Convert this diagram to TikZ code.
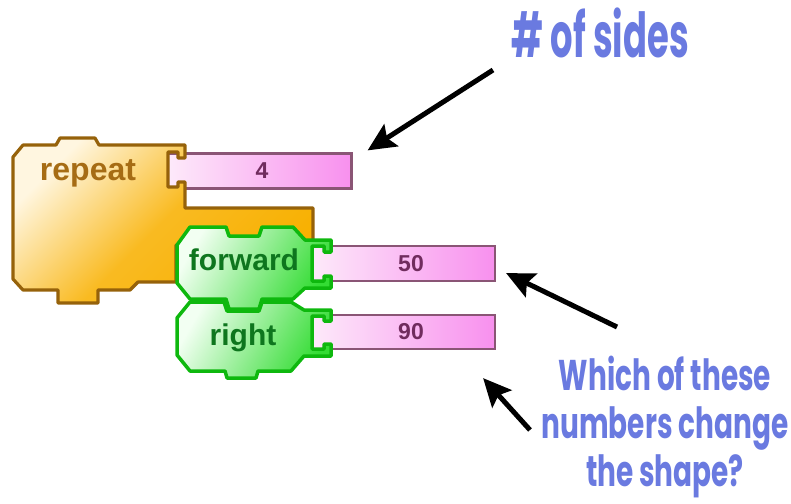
\documentclass[tikz,border=0pt]{standalone}
\usepackage{fontspec}
\setmainfont{Liberation Sans}
\newfontfamily\notefont[FakeStretch=0.57]{Poppins}
\newfontfamily\askfont[FakeStretch=0.65]{Poppins}
\usepackage{tikz}
\usetikzlibrary{arrows.meta,positioning}
\definecolor{ctrlorange}{RGB}{248,176,0}
\definecolor{ctrllight}{RGB}{255,246,224}
\definecolor{ctrledge}{RGB}{150,98,10}
\definecolor{ctrltext}{RGB}{166,108,20}
\definecolor{motiongreen}{RGB}{52,220,52}
\definecolor{motionlight}{RGB}{242,255,242}
\definecolor{motionedge}{RGB}{14,184,14}
\definecolor{motiontext}{RGB}{14,118,30}
\definecolor{slotpink}{RGB}{248,144,238}
\definecolor{slotlight}{RGB}{253,234,250}
\definecolor{slotedge}{RGB}{138,85,117}
\definecolor{slottext}{RGB}{112,44,94}
\definecolor{noteblue}{RGB}{106,122,224}
\tikzstyle{ctrlblock} = [draw=ctrledge, line width=3.2pt, line join=round, left color=ctrllight, right color=ctrlorange, middle color=ctrlorange!85!ctrllight, shading angle=45]
\tikzstyle{motionblock} = [draw=motionedge, line width=3.5pt, line join=round, left color=motionlight, right color=motiongreen, shading angle=60]
\tikzstyle{slot} = [rectangle, draw=slotedge, line width=2.2pt, left color=slotlight, right color=slotpink, minimum width=184pt, minimum height=35pt, inner sep=0pt, text=slottext, font=\fontsize{23}{26}\selectfont\bfseries]
\tikzstyle{blocklabel} = [anchor=base, inner sep=0pt, font=\fontsize{30}{34}\selectfont\bfseries]
\tikzstyle{note} = [text=noteblue, inner sep=0pt]
\tikzstyle{callout} = [line width=5pt, -{Stealth[length=28pt,width=26pt,inset=5pt]}]

\begin{document}
\begin{tikzpicture}[x=1pt,y=-1pt]
\useasboundingbox (0,0) rectangle (791,503);

% number slots (under the brackets of the blocks)
\node[slot] (four) at (259.5,171) {\hspace{5pt}4};
\node[slot] (fifty) at (403,263.5) {\hspace{16pt}50};
\node[slot, minimum height=34pt] (ninety) at (403,332) {\hspace{16pt}90};

% repeat block
\draw[ctrlblock] (13,157) -- (23,145) -- (56,145) -- (60,138) -- (95,138) -- (99,145)
  -- (185,145) -- (185,158) -- (178,158) -- (178,152) -- (168,152) -- (168,187)
  -- (178,187) -- (178,182) -- (185,182) -- (185,208) -- (313,208) -- (313,245)
  -- (176,245) -- (176,282) -- (138,282) -- (130,290) -- (98,290) -- (98,303)
  -- (58,303) -- (58,290) -- (23,290) -- (13,279) -- cycle;
\node[blocklabel, text=ctrltext, font=\fontsize{32}{36}\selectfont\bfseries] (repeat) at (88,180) {repeat};

% right block
\draw[motionblock] (177,318) -- (190,302) -- (224,302) -- (227,311) -- (259,311) -- (262,302)
  -- (291,302) -- (304,310) -- (331,310) -- (331,321) -- (324,321) -- (324,316)
  -- (312,316) -- (312,349) -- (324,349) -- (324,344) -- (331,344) -- (331,356)
  -- (304,356) -- (291,371) -- (258,371) -- (256,378) -- (227,378) -- (225,371)
  -- (190,371) -- (177,355) -- cycle;
\node[blocklabel, text=motiontext] (right) at (243,345) {right};

% forward block
\draw[motionblock] (177,245) -- (190,227) -- (226,227) -- (229,236) -- (259,236) -- (262,227)
  -- (293,227) -- (305,240) -- (331,240) -- (331,252) -- (324,252) -- (324,246)
  -- (312,246) -- (312,281) -- (324,281) -- (324,276) -- (331,276) -- (331,288)
  -- (305,288) -- (293,299) -- (262,299) -- (259,309) -- (229,309) -- (226,299)
  -- (190,299) -- (177,283) -- cycle;
\node[blocklabel, text=motiontext] (forward) at (244,270) {forward};

% notes
\node[note, anchor=base, font=\notefont\bfseries\fontsize{62}{64}\selectfont] (sides) at (600,57) {\# of sides};
\node[note, align=center, font=\askfont\bfseries\fontsize{43}{48}\selectfont] (question) at (665,427) {Which of these\\numbers change\\the shape?};

\coordinate (sidestail) at (493,70);
\coordinate (fiftytail) at (617,327);
\coordinate (ninetytail) at (530,430);
\draw[callout] (sidestail) -- ([xshift=15pt,yshift=2pt]four.north east);
\draw[callout] (fiftytail) -- ([xshift=10pt,yshift=9pt]fifty.south east);
\draw[callout] (ninetytail) -- ([xshift=-13pt,yshift=-28pt]ninety.south east);
\end{tikzpicture}
\end{document}
